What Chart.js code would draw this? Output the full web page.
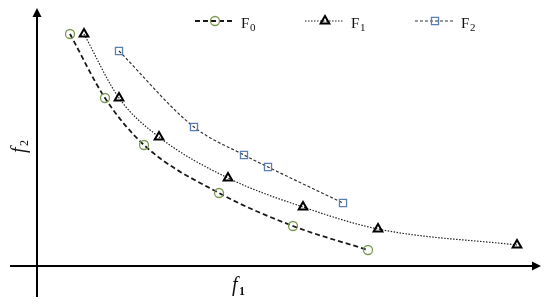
<!DOCTYPE html>
<html>
<head>
<meta charset="utf-8">
<script src="https://cdn.jsdelivr.net/npm/chart.js@4"></script>
<style>
  body { margin: 0; background: #fff; }
  #wrap { width: 550px; height: 307px; }
</style>
</head>
<body>
<div id="wrap"><canvas id="chart" width="550" height="307"></canvas></div>
<script>
// values (arbitrary units, origin at the axes crossing)
const f0X = [3.3, 6.8, 10.7, 18.2, 25.6, 33.1];
const f0Y = [23.2, 16.8, 12.1, 7.3, 4.0, 1.6];
const f1X = [4.7, 8.2, 12.2, 19.1, 26.6, 34.1, 48.0];
const f1Y = [23.2, 16.8, 12.9, 8.8, 5.9, 3.7, 2.1];
const f2X = [8.2, 15.7, 20.7, 23.1, 30.6];
const f2Y = [21.5, 13.9, 11.1, 9.9, 6.3];
const seriesNames = ['F', 'F', 'F'];
const seriesSubs = ['0', '1', '2'];

const toPoints = (xs, ys) => xs.map((x, i) => ({ x: x, y: ys[i] }));

// axes with arrows, axis titles and the legend are drawn by hand
const decorations = {
  id: 'decorations',
  afterDraw(chart) {
    const ctx = chart.ctx;
    const xs = chart.scales.x;
    const ys = chart.scales.y;
    const ox = xs.getPixelForValue(0);
    const oy = ys.getPixelForValue(0);
    ctx.save();
    ctx.strokeStyle = '#000';
    ctx.fillStyle = '#000';
    ctx.lineWidth = 2;

    // horizontal axis
    ctx.beginPath();
    ctx.moveTo(10, oy);
    ctx.lineTo(xs.right - 8, oy);
    ctx.stroke();
    ctx.beginPath();
    ctx.moveTo(xs.right, oy);
    ctx.lineTo(xs.right - 9, oy - 4.5);
    ctx.lineTo(xs.right - 9, oy + 4.5);
    ctx.closePath();
    ctx.fill();

    // vertical axis
    ctx.beginPath();
    ctx.moveTo(ox, 297);
    ctx.lineTo(ox, ys.top + 8);
    ctx.stroke();
    ctx.beginPath();
    ctx.moveTo(ox, ys.top);
    ctx.lineTo(ox - 4.5, ys.top + 9);
    ctx.lineTo(ox + 4.5, ys.top + 9);
    ctx.closePath();
    ctx.fill();

    // axis titles
    ctx.textBaseline = 'alphabetic';
    ctx.fillStyle = '#111';
    ctx.font = 'italic 20px "Liberation Serif"';
    ctx.fillText('f', 232, 291);
    ctx.font = 'bold 12px "Liberation Serif"';
    ctx.fillText('1', 239, 295);

    ctx.save();
    ctx.translate(25, 153);
    ctx.rotate(-Math.PI / 2);
    ctx.font = 'italic 20px "Liberation Serif"';
    ctx.fillText('f', 0, 0);
    ctx.font = '12px "Liberation Serif"';
    ctx.fillText('2', 7, 3);
    ctx.restore();

    // legend
    const legendX = [195, 305, 415];
    const ly = 21;
    chart.data.datasets.forEach((ds, i) => {
      const x0 = legendX[i];
      ctx.save();
      ctx.strokeStyle = ds.borderColor;
      ctx.lineWidth = ds.borderWidth;
      ctx.setLineDash(ds.borderDash);
      ctx.beginPath();
      ctx.moveTo(x0, ly);
      ctx.lineTo(x0 + 38, ly);
      ctx.stroke();
      ctx.setLineDash([]);
      ctx.strokeStyle = ds.pointBorderColor;
      ctx.fillStyle = 'rgba(0,0,0,0)';
      ctx.lineWidth = ds.pointBorderWidth;
      Chart.helpers.drawPoint(ctx, {
        pointStyle: ds.pointStyle,
        radius: ds.pointRadius,
        borderWidth: ds.pointBorderWidth,
        rotation: 0
      }, x0 + 20, ly);
      ctx.restore();
      ctx.save();
      ctx.fillStyle = '#111';
      ctx.font = '15px "Liberation Serif"';
      ctx.fillText(seriesNames[i], x0 + 46, 28);
      ctx.font = '11px "Liberation Serif"';
      ctx.fillText(seriesSubs[i], x0 + 55, 31);
      ctx.restore();
    });
    ctx.restore();
  }
};

const common = {
  fill: false,
  cubicInterpolationMode: 'monotone',
  pointBackgroundColor: 'rgba(255,255,255,0)',
  pointRadius: 4.5,
  pointHoverRadius: 4.5
};

new Chart(document.getElementById('chart'), {
  type: 'line',
  data: {
    datasets: [
      Object.assign({}, common, {
        label: 'F0',
        data: toPoints(f0X, f0Y),
        borderColor: '#1a1a1a',
        borderWidth: 1.8,
        borderDash: [5, 3],
        pointStyle: 'circle',
        pointBorderColor: '#7a9a52',
        pointBorderWidth: 1.3
      }),
      Object.assign({}, common, {
        label: 'F1',
        data: toPoints(f1X, f1Y),
        borderColor: '#222',
        borderWidth: 1.2,
        borderDash: [1.5, 1.5],
        pointStyle: 'triangle',
        pointBorderColor: '#000',
        pointBorderWidth: 2,
        pointRadius: 5
      }),
      Object.assign({}, common, {
        label: 'F2',
        data: toPoints(f2X, f2Y),
        borderColor: '#333',
        borderWidth: 1.2,
        borderDash: [3, 2],
        pointStyle: 'rect',
        pointBorderColor: '#5b7fb0',
        pointBorderWidth: 1.3,
        pointRadius: 5
      })
    ]
  },
  options: {
    responsive: false,
    animation: false,
    events: [],
    layout: { padding: { left: 37, right: 9, top: 8, bottom: 41 } },
    plugins: {
      legend: { display: false },
      tooltip: { enabled: false }
    },
    scales: {
      x: { type: 'linear', display: false, min: 0, max: 50.4 },
      y: { type: 'linear', display: false, min: 0, max: 25.8 }
    }
  },
  plugins: [decorations]
});
</script>
</body>
</html>
